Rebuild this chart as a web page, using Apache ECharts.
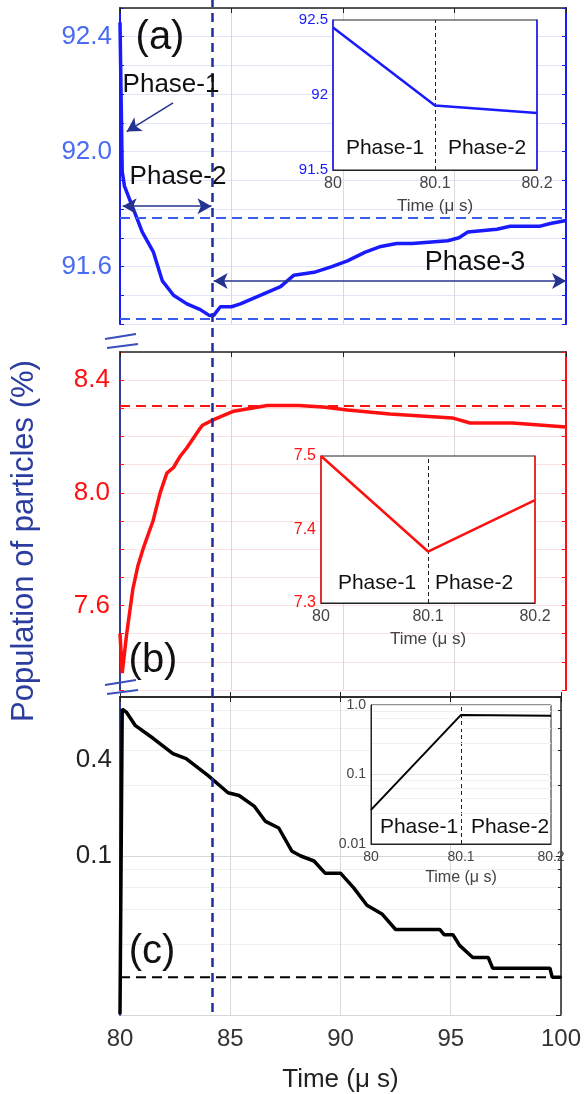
<!DOCTYPE html>
<html>
<head>
<meta charset="utf-8">
<script src="https://cdn.jsdelivr.net/npm/echarts@6.0.0/dist/echarts.min.js"></script>
<style>
  html, body { margin: 0; padding: 0; background: #fff; }
  #chart { width: 584px; height: 1094px; }
</style>
</head>
<body>
<div id="chart"></div>
<script>
// panel (a): population of the majority species
var timeA = [80, 80.1, 80.2, 80.6, 81.0, 81.5, 81.9, 82.4, 83.0, 83.6, 84.0, 84.2, 84.5, 85.0, 85.4, 86.0, 86.6, 87.2, 87.8, 88.7, 89.5, 90.2, 91.0, 91.7, 92.4, 93.1, 94.7, 95.2, 95.6, 96.9, 97.5, 98.8, 99.3, 100];
var popA = [92.45, 91.93, 91.88, 91.80, 91.72, 91.65, 91.55, 91.50, 91.47, 91.45, 91.43, 91.43, 91.46, 91.46, 91.47, 91.49, 91.51, 91.53, 91.57, 91.58, 91.60, 91.62, 91.65, 91.67, 91.68, 91.68, 91.69, 91.70, 91.72, 91.73, 91.74, 91.74, 91.75, 91.76];
// panel (b)
var timeB = [80, 80.1, 80.3, 80.58, 80.8, 81.03, 81.48, 81.8, 82.1, 82.4, 82.7, 83.0, 83.6, 83.7, 84.2, 85.1, 86.6, 88.0, 89.1, 90.2, 92.1, 94.9, 95.7, 97.6, 100];
var popB = [7.50, 7.36, 7.50, 7.66, 7.74, 7.80, 7.90, 8.00, 8.07, 8.09, 8.13, 8.16, 8.23, 8.24, 8.26, 8.29, 8.31, 8.31, 8.305, 8.294, 8.28, 8.266, 8.248, 8.248, 8.234];
// panel (c), log scale
var timeC = [80, 80.1, 80.3, 80.7, 81.5, 82.4, 83.0, 84.0, 84.9, 85.4, 86.1, 86.6, 87.2, 87.8, 88.2, 88.8, 89.3, 90.0, 90.6, 91.2, 91.9, 92.5, 94.5, 94.7, 95.1, 95.4, 96.0, 96.7, 96.9, 99.5, 99.6, 100];
var popC = [0.0101, 0.84, 0.80, 0.66, 0.55, 0.44, 0.41, 0.32, 0.25, 0.24, 0.205, 0.165, 0.15, 0.107, 0.10, 0.093, 0.078, 0.078, 0.063, 0.049, 0.043, 0.0345, 0.0345, 0.032, 0.032, 0.0274, 0.023, 0.023, 0.0197, 0.0197, 0.0173, 0.0173];

// insets: first 0.2 us
var insetTime = [80, 80.1, 80.2];
var insetA = [92.45, 91.93, 91.88];
var insetB = [7.50, 7.37, 7.44];
var insetC = [0.031, 0.72, 0.70];

// reference levels
var phaseBoundary = 84.13;
var levelsA = [91.766, 91.425];
var levelB = 8.31;
var levelC = 0.0173;
var levelSpan = [80, 100.3];

// labelled ticks
var labelsA = [91.6, 92.0, 92.4];
var labelsB = [7.6, 8.0, 8.4];
var labelsC = [0.4, 0.1];

var FONT = "'Liberation Sans', Arial, sans-serif";
var c = {
  blue: '#1a1aff',
  blueLbl: '#4a6cf0',
  navy: '#2b3d9e',
  red: '#ff1010',
  ink: '#111',
  grey: '#444',
  vgrid: '#d9d9d9'
};

function zip(xs, ys) {
  return xs.map(function (x, i) { return [x, ys[i]]; });
}
function pickLabels(list) {
  return function (v) {
    for (var i = 0; i < list.length; i++) {
      if (Math.abs(list[i] - v) < 1e-6) return list[i].toFixed(1);
    }
    return '';
  };
}

var chart = echarts.init(document.getElementById('chart'));

var topAxis = function (grid) {
  return {
    gridIndex: grid, type: 'value', min: 80, max: 100, interval: 5, position: 'top',
    axisLine: { lineStyle: { color: '#222', width: 1.5 } },
    axisTick: { inside: true, length: 5, lineStyle: { color: '#222' } },
    axisLabel: { show: false },
    splitLine: { show: grid !== 2, lineStyle: { color: c.vgrid } }
  };
};

var insetX = function (grid, fs, nameFs, gap) {
  return {
    gridIndex: grid, type: 'value', min: 80, max: 80.2, interval: 0.1, z: 6,
    name: 'Time (\u03bc s)', nameLocation: 'middle', nameGap: gap,
    nameTextStyle: { color: c.grey, fontSize: nameFs, fontFamily: FONT },
    axisLine: { lineStyle: { color: '#222' } },
    axisTick: { show: false },
    axisLabel: { color: c.grey, fontSize: fs, fontFamily: FONT, margin: 6 },
    splitLine: { show: false }
  };
};

var hdash = function (color, vals) {
  return {
    silent: true, symbol: 'none', label: { show: false },
    lineStyle: { color: color, type: [10, 6], width: 2 },
    data: vals.map(function (v) { return { yAxis: v }; })
  };
};

var insetDivider = {
  silent: true, symbol: 'none', label: { show: false },
  lineStyle: { color: '#222', type: [4, 3], width: 1 },
  data: [{ xAxis: 80.1 }]
};

var option = {
  animation: false,
  backgroundColor: '#fff',
  textStyle: { fontFamily: FONT },
  grid: [
    { left: 120, right: 18, top: 8, height: 316 },
    { left: 120, right: 18, top: 352, height: 338 },
    { left: 120, right: 18, top: 697, bottom: 76 },
    { left: 120, right: 18, top: 0, bottom: 82 },
    { left: 333, top: 20, width: 204, height: 150, show: true, z: 5, backgroundColor: '#fff', borderColor: '#222', borderWidth: 1 },
    { left: 321, top: 456, width: 214, height: 147, show: true, z: 5, backgroundColor: '#fff', borderColor: '#222', borderWidth: 1 },
    { left: 371, top: 705, width: 180, height: 139, show: true, z: 5, backgroundColor: '#fff', borderColor: '#222', borderWidth: 1 }
  ],
  xAxis: [
    topAxis(0),
    topAxis(1),
    {
      gridIndex: 2, type: 'value', min: 80, max: 100, interval: 5,
      name: 'Time (\u03bc s)', nameLocation: 'middle', nameGap: 52,
      nameTextStyle: { color: '#222', fontSize: 26, fontFamily: FONT },
      axisLine: { lineStyle: { color: '#222', width: 1.5 } },
      axisTick: { inside: true, length: 5, lineStyle: { color: '#222' } },
      axisLabel: { color: '#333', fontSize: 24, fontFamily: FONT, margin: 12 },
      splitLine: { show: true, lineStyle: { color: c.vgrid } }
    },
    topAxis(2),
    { gridIndex: 3, type: 'value', min: 80, max: 100, show: false },
    insetX(4, 16, 17, 28),
    insetX(5, 16, 17, 28),
    insetX(6, 14, 16, 26)
  ],
  yAxis: [
    {
      gridIndex: 0, type: 'value', min: 91.4, max: 92.5, interval: 0.1,
      axisLine: { lineStyle: { color: c.blue, width: 2 } },
      axisTick: { inside: true, length: 4, lineStyle: { color: c.blue } },
      axisLabel: { color: c.blueLbl, fontSize: 26, fontFamily: FONT, margin: 8, formatter: pickLabels(labelsA) },
      splitLine: { lineStyle: { color: '#e1e4fb' } }
    },
    {
      gridIndex: 0, type: 'value', min: 91.4, max: 92.5, interval: 0.1, position: 'right',
      axisLine: { lineStyle: { color: c.blue, width: 2 } },
      axisTick: { inside: true, length: 4, lineStyle: { color: c.blue } },
      axisLabel: { show: false }, splitLine: { show: false }
    },
    {
      gridIndex: 1, type: 'value', min: 7.3, max: 8.5, interval: 0.1,
      axisLine: { lineStyle: { color: c.navy, width: 2 } },
      axisTick: { inside: true, length: 4, lineStyle: { color: c.red } },
      axisLabel: { color: c.red, fontSize: 26, fontFamily: FONT, margin: 10, formatter: pickLabels(labelsB) },
      splitLine: { lineStyle: { color: '#fde2e2' } }
    },
    {
      gridIndex: 1, type: 'value', min: 7.3, max: 8.5, interval: 0.1, position: 'right',
      axisLine: { lineStyle: { color: c.red, width: 2 } },
      axisTick: { inside: true, length: 4, lineStyle: { color: c.red } },
      axisLabel: { show: false }, splitLine: { show: false }
    },
    {
      gridIndex: 2, type: 'log', logBase: 10, min: 0.01, max: 1,
      axisLine: { lineStyle: { color: c.navy, width: 2 } },
      axisTick: { show: false },
      axisLabel: { show: false },
      splitLine: { lineStyle: { color: '#d6d6d6' } },
      minorSplitLine: { show: true, lineStyle: { color: '#efefef' } }
    },
    {
      gridIndex: 2, type: 'log', logBase: 10, min: 0.01, max: 1, position: 'right',
      axisLine: { lineStyle: { color: '#222', width: 1.5 } },
      axisTick: { inside: true, length: 5, lineStyle: { color: '#222' } },
      minorTick: { show: true, length: 3 },
      axisLabel: { show: false }, splitLine: { show: false }
    },
    {
      // label helper for the log panel (positions in log10 space)
      gridIndex: 2, type: 'value', min: -2, max: 0, position: 'left',
      axisLine: { show: false }, axisTick: { show: false }, splitLine: { show: false },
      axisLabel: {
        customValues: labelsC.map(function (v) { return Math.log10(v); }),
        formatter: function (v) { return Math.pow(10, v).toFixed(1); },
        color: '#222', fontSize: 26, fontFamily: FONT, margin: 8
      }
    },
    { gridIndex: 3, type: 'value', min: 0, max: 1, show: false },
    {
      gridIndex: 4, type: 'value', min: 91.5, max: 92.5, interval: 0.5, z: 6,
      axisLine: { lineStyle: { color: c.blue, width: 1.5 } },
      axisTick: { show: false },
      axisLabel: { color: c.blue, fontSize: 15, fontFamily: FONT, margin: 5 },
      splitLine: { show: false }
    },
    {
      gridIndex: 4, type: 'value', min: 91.5, max: 92.5, position: 'right', z: 6,
      axisLine: { lineStyle: { color: c.blue, width: 1.5 } },
      axisTick: { show: false }, axisLabel: { show: false }, splitLine: { show: false }
    },
    {
      gridIndex: 5, type: 'value', min: 7.3, max: 7.5, interval: 0.1, z: 6,
      axisLine: { lineStyle: { color: c.red, width: 1.5 } },
      axisTick: { show: false },
      axisLabel: { color: c.red, fontSize: 16, fontFamily: FONT, margin: 5 },
      splitLine: { show: false }
    },
    {
      gridIndex: 5, type: 'value', min: 7.3, max: 7.5, position: 'right', z: 6,
      axisLine: { lineStyle: { color: c.red, width: 1.5 } },
      axisTick: { show: false }, axisLabel: { show: false }, splitLine: { show: false }
    },
    {
      gridIndex: 6, type: 'log', logBase: 10, min: 0.01, max: 1, z: 6,
      axisLine: { lineStyle: { color: '#222' } },
      axisTick: { show: false },
      axisLabel: {
        color: c.grey, fontSize: 14, fontFamily: FONT, margin: 5,
        formatter: function (v) {
          if (Math.abs(v - 1) < 1e-9) return '1.0';
          if (Math.abs(v - 0.1) < 1e-9) return '0.1';
          return '0.01';
        }
      },
      splitLine: { lineStyle: { color: '#e4e4e4' } },
      minorSplitLine: { show: true, lineStyle: { color: '#f0f0f0' } }
    }
  ],
  series: [
    {
      type: 'line', xAxisIndex: 0, yAxisIndex: 0, data: zip(timeA, popA), showSymbol: false, z: 3,
      lineStyle: { color: c.blue, width: 3.5 },
      markLine: hdash('#3a5cf0', levelsA)
    },
    {
      type: 'line', xAxisIndex: 0, yAxisIndex: 0, data: [], z: 4,
      markLine: {
        silent: true, symbol: ['arrow', 'arrow'], symbolSize: [12, 14], label: { show: false },
        lineStyle: { color: '#24338f', type: 'solid', width: 1.5 },
        data: [
          [{ coord: [82.38, 92.17], symbol: 'none' }, { coord: [80.3, 92.07] }],
          [{ coord: [80.12, 91.81] }, { coord: [84.1, 91.81] }],
          [{ coord: [84.2, 91.55] }, { coord: [100, 91.55] }]
        ]
      }
    },
    {
      type: 'line', xAxisIndex: 1, yAxisIndex: 2, data: zip(timeB, popB), showSymbol: false, z: 3,
      lineStyle: { color: c.red, width: 3.5 },
      markLine: hdash(c.red, [levelB])
    },
    {
      type: 'line', xAxisIndex: 2, yAxisIndex: 4, data: zip(timeC, popC), showSymbol: false, z: 3,
      lineStyle: { color: '#000', width: 3.5 }
    },
    {
      // asymptotic level of panel (c), drawn as its own dashed series on the log axis
      type: 'line', xAxisIndex: 2, yAxisIndex: 4, showSymbol: false, z: 2, clip: false,
      data: levelSpan.map(function (t) { return [t, levelC]; }),
      lineStyle: { color: '#000', width: 2, type: [10, 6] }
    },
    {
      type: 'line', xAxisIndex: 4, yAxisIndex: 7, data: [], z: 4,
      markLine: {
        silent: true, symbol: 'none', label: { show: false },
        lineStyle: { color: '#1f2f9f', type: [9, 6], width: 2.5 },
        data: [{ xAxis: phaseBoundary }]
      }
    },
    {
      type: 'line', xAxisIndex: 5, yAxisIndex: 8, data: zip(insetTime, insetA), showSymbol: false, z: 7,
      lineStyle: { color: c.blue, width: 2.5 }, markLine: insetDivider
    },
    {
      type: 'line', xAxisIndex: 6, yAxisIndex: 10, data: zip(insetTime, insetB), showSymbol: false, z: 7,
      lineStyle: { color: c.red, width: 2.5 }, markLine: insetDivider
    },
    {
      type: 'line', xAxisIndex: 7, yAxisIndex: 12, data: zip(insetTime, insetC), showSymbol: false, z: 7,
      lineStyle: { color: '#000', width: 2 }, markLine: insetDivider
    }
  ],
  graphic: [
    { type: 'text', x: 24, y: 541, rotation: Math.PI / 2, z: 10,
      style: { text: 'Population of particles (%)', fill: c.navy, fontSize: 31, fontFamily: FONT, align: 'center', verticalAlign: 'middle' } },
    { type: 'text', x: 160, y: 38, z: 10, style: { text: '(a)', fill: '#111', fontSize: 40, fontFamily: FONT, align: 'center', verticalAlign: 'middle' } },
    { type: 'text', x: 153, y: 661, z: 10, style: { text: '(b)', fill: '#111', fontSize: 40, fontFamily: FONT, align: 'center', verticalAlign: 'middle' } },
    { type: 'text', x: 152, y: 952, z: 10, style: { text: '(c)', fill: '#111', fontSize: 40, fontFamily: FONT, align: 'center', verticalAlign: 'middle' } },
    { type: 'text', x: 171, y: 85, z: 10, style: { text: 'Phase-1', fill: '#111', fontSize: 26, fontFamily: FONT, align: 'center', verticalAlign: 'middle' } },
    { type: 'text', x: 178, y: 177, z: 10, style: { text: 'Phase-2', fill: '#111', fontSize: 26, fontFamily: FONT, align: 'center', verticalAlign: 'middle' } },
    { type: 'text', x: 475, y: 263, z: 10, style: { text: 'Phase-3', fill: '#111', fontSize: 27, fontFamily: FONT, align: 'center', verticalAlign: 'middle' } },
    { type: 'text', x: 385, y: 148, z: 10, style: { text: 'Phase-1', fill: '#111', fontSize: 21, fontFamily: FONT, align: 'center', verticalAlign: 'middle' } },
    { type: 'text', x: 487, y: 148, z: 10, style: { text: 'Phase-2', fill: '#111', fontSize: 21, fontFamily: FONT, align: 'center', verticalAlign: 'middle' } },
    { type: 'text', x: 377, y: 583, z: 10, style: { text: 'Phase-1', fill: '#111', fontSize: 21, fontFamily: FONT, align: 'center', verticalAlign: 'middle' } },
    { type: 'text', x: 474, y: 583, z: 10, style: { text: 'Phase-2', fill: '#111', fontSize: 21, fontFamily: FONT, align: 'center', verticalAlign: 'middle' } },
    { type: 'text', x: 419, y: 827, z: 10, style: { text: 'Phase-1', fill: '#111', fontSize: 21, fontFamily: FONT, align: 'center', verticalAlign: 'middle' } },
    { type: 'text', x: 510, y: 827, z: 10, style: { text: 'Phase-2', fill: '#111', fontSize: 21, fontFamily: FONT, align: 'center', verticalAlign: 'middle' } },
    // axis break marks
    { type: 'line', z: 10, shape: { x1: 105, y1: 339, x2: 136, y2: 334 }, style: { stroke: '#3a4fbf', lineWidth: 2 } },
    { type: 'line', z: 10, shape: { x1: 107, y1: 348, x2: 138, y2: 344 }, style: { stroke: '#3a4fbf', lineWidth: 2 } },
    { type: 'line', z: 10, shape: { x1: 105, y1: 685, x2: 136, y2: 680 }, style: { stroke: '#3a4fbf', lineWidth: 2 } },
    { type: 'line', z: 10, shape: { x1: 107, y1: 694, x2: 138, y2: 690 }, style: { stroke: '#3a4fbf', lineWidth: 2 } }
  ]
};

chart.setOption(option);
</script>
</body>
</html>
